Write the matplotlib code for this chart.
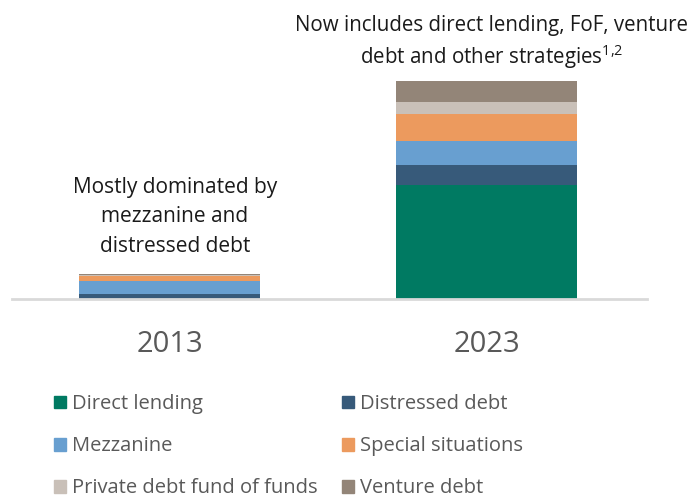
import matplotlib.pyplot as plt
from matplotlib.patches import Patch

plt.rcParams["font.family"] = ["Open Sans", "DejaVu Sans"]

years = ["2013", "2023"]

strategies = [
    "Direct lending",
    "Distressed debt",
    "Mezzanine",
    "Special situations",
    "Private debt fund of funds",
    "Venture debt",
]

# stacked values per strategy (2013, 2023), bottom to top
direct_lending = [0.0, 114.0]
distressed_debt = [4.7, 20.3]
mezzanine = [13.3, 24.0]
special_situations = [5.3, 27.0]
fund_of_funds = [0.4, 12.0]
venture_debt = [1.0, 20.7]

colors = ["#007A62", "#375A7A", "#689FD0", "#EC9A5E", "#C9C0B8", "#938578"]

series = [
    direct_lending,
    distressed_debt,
    mezzanine,
    special_situations,
    fund_of_funds,
    venture_debt,
]

fig = plt.figure(figsize=(6.97, 4.99), dpi=100)
ax = fig.add_axes([12 / 697, 200 / 499, 635 / 697, 239 / 499])

x = [0, 1]
bottom = [0.0, 0.0]
for name, vals, col in zip(strategies, series, colors):
    ax.bar(x, vals, width=0.572, bottom=bottom, color=col, label=name)
    bottom = [b + v for b, v in zip(bottom, vals)]

ax.set_xlim(-0.499, 1.507)
ax.set_ylim(0, 239)

for side in ["top", "right", "left"]:
    ax.spines[side].set_visible(False)
ax.spines["bottom"].set_color("#D9D9D9")
ax.spines["bottom"].set_linewidth(2)
ax.set_yticks([])
ax.set_xticks(x)
ax.set_xticklabels(years, fontsize=21, color="#595959")
ax.tick_params(axis="x", length=0, pad=22)

ax.text(
    0.016, 82,
    "Mostly dominated by\nmezzanine and\ndistressed debt",
    ha="center", va="center", fontsize=15, color="#1A1A1A",
    linespacing=1.5,
)
ax.text(
    1.017, 256,
    "Now includes direct lending, FoF, venture\n"
    "debt and other strategies$^{\\mathregular{1{,}2}}$",
    ha="center", va="center", fontsize=14.8, color="#1A1A1A",
    linespacing=1.3,
)

handles = [Patch(color=c) for c in colors]
order = [0, 2, 4, 1, 3, 5]
fig.legend(
    [handles[i] for i in order],
    [strategies[i] for i in order],
    ncol=2,
    loc="upper left",
    bbox_to_anchor=(36 / 697, 1 - 376 / 499),
    frameon=False,
    fontsize=14.5,
    labelcolor="#595959",
    handlelength=0.6,
    handleheight=0.6,
    handletextpad=0.3,
    columnspacing=1.2,
    labelspacing=1.1,
)

fig.savefig("out.png", dpi=100)
